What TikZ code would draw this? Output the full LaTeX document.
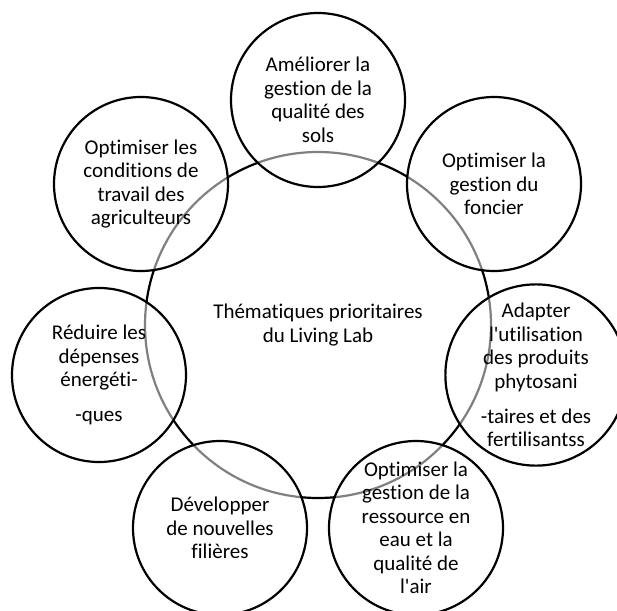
\documentclass[tikz,border=0pt]{standalone}
\usepackage{fontspec}
\setmainfont{Carlito}[Ligatures={NoCommon}]
\begin{document}
\begin{tikzpicture}[x=1pt,y=-1pt,
  txt/.style={align=center,font=\fontsize{21}{23.5}\selectfont},
  big/.style={circle,draw=black,line width=2.2pt,minimum size=346pt,inner sep=0pt,txt},
  theme/.style={circle,draw=black,line width=2.2pt,fill=white,fill opacity=0.5,text opacity=1,minimum size=174pt,inner sep=0pt,txt}]
\useasboundingbox (0,0) rectangle (617,610);
\node[big] (hub) at (318,325) {Thématiques prioritaires\\du Living Lab};
\node[theme] (sols) at (318,100) {Améliorer la\\gestion de la\\qualité des\\sols};
\node[theme] (foncier) at (494,184) {Optimiser la\\gestion du\\foncier};
\node[theme] (phyto) at (536,375) {Adapter\\l\textquotesingle utilisation\\des produits\\phytosani\\[11.5pt]-taires et des\\fertilisantss};
\node[theme] (eau) at (416,528) {Optimiser la\\gestion de la\\ressource en\\eau et la\\qualité de\\l\textquotesingle air};
\node[theme] (filieres) at (220,528) {Développer\\de nouvelles\\filières};
\node[theme] (energie) at (99,375) {Réduire les\\dépenses\\énergéti-\\[11.5pt]-ques};
\node[theme] (travail) at (141,184) {Optimiser les\\conditions de\\travail des\\agriculteurs};
\end{tikzpicture}
\end{document}
